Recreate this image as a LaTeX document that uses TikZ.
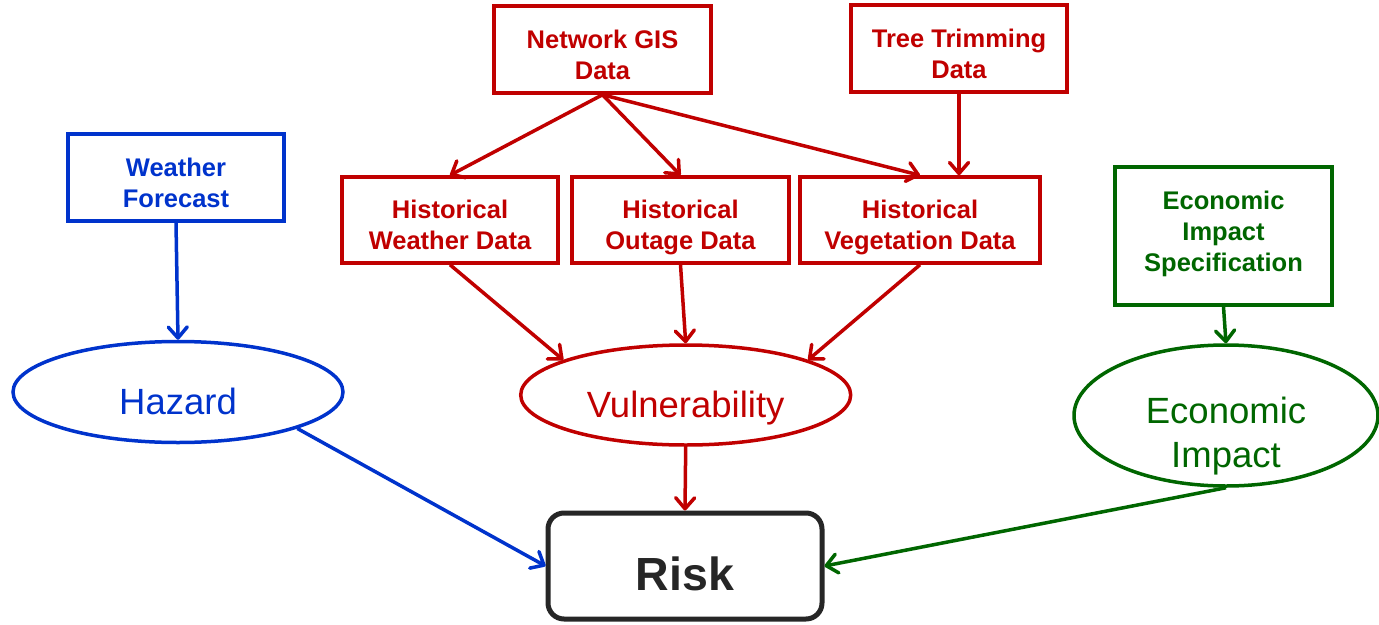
\documentclass[tikz,border=0pt]{standalone}
\usepackage{fontspec}
\setmainfont{Liberation Sans}
\usetikzlibrary{arrows.meta,shapes.geometric}

\definecolor{hazblue}{RGB}{0,51,204}
\definecolor{vulred}{RGB}{192,0,0}
\definecolor{ecogreen}{RGB}{0,102,0}
\definecolor{riskgray}{RGB}{38,38,38}

% invisible struts that set the height of a first line and the depth of a last line
\newcommand{\firstline}{\rule{0pt}{35pt}}
\newcommand{\lastline}{\rule[-7pt]{0pt}{7pt}}

\begin{document}
\begin{tikzpicture}[x=1pt,y=-1pt,
  inputbox/.style={draw, line width=3.5pt, inner sep=0pt, align=center,
    font=\fontsize{25.5pt}{31pt}\selectfont\bfseries},
  factor/.style={ellipse, draw, line width=3.5pt, inner sep=0pt, align=center,
    font=\fontsize{36.5pt}{44pt}\selectfont},
  link/.style={line width=3.5pt, -{Straight Barb[length=11pt,width=19pt,round]}},
]
\useasboundingbox (0,0) rectangle (1379,624);

% data sources
\node[inputbox, hazblue, minimum width=216pt, minimum height=87pt] (wf) at (176,177.5)
  {\firstline Weather\\Forecast\lastline};
\node[inputbox, vulred, minimum width=217pt, minimum height=87pt] (gis) at (602.5,49.5)
  {\firstline Network GIS\\Data\lastline};
\node[inputbox, vulred, minimum width=216pt, minimum height=87pt] (tree) at (959,48.5)
  {\firstline Tree Trimming\\Data\lastline};
\node[inputbox, vulred, minimum width=216pt, minimum height=86pt] (hw) at (450,220)
  {\firstline Historical\\Weather Data\lastline};
\node[inputbox, vulred, minimum width=217pt, minimum height=86pt] (ho) at (680.5,220)
  {\firstline Historical\\Outage Data\lastline};
\node[inputbox, vulred, minimum width=240pt, minimum height=86pt] (hv) at (920,220)
  {\firstline Historical\\Vegetation Data\lastline};
\node[inputbox, ecogreen, minimum width=217pt, minimum height=138pt] (eis) at (1223.5,236)
  {Economic\\Impact\\Specification\rule[-10pt]{0pt}{10pt}};

% risk factors
\node[factor, hazblue, minimum width=330pt, minimum height=101pt,
  text height=45pt, text depth=0pt] (hazard) at (178,392) {Hazard};
\node[factor, vulred, minimum width=330pt, minimum height=100pt,
  text height=45pt, text depth=0pt] (vuln) at (685.7,395) {Vulnerability};
\node[factor, ecogreen, minimum width=304pt, minimum height=141pt, inner ysep=-25pt]
  (ei) at (1226,415.5) {\rule{0pt}{68pt}Economic\\Impact\rule[-8pt]{0pt}{8pt}};

% result
\node[draw=riskgray, text=riskgray, line width=5pt, rounded corners=16pt,
  minimum width=274pt, minimum height=106pt, inner sep=0pt,
  font=\fontsize{46.5pt}{56pt}\selectfont\bfseries,
  text height=48pt, text depth=0pt] (risk) at (685,566) {Risk};

% connectors
\draw[link, hazblue] (wf.south) -- (hazard.north);
\draw[link, hazblue] (hazard.-17.5) -- (risk.west);

\draw[link, vulred] (gis.south) -- (hw.north);
\draw[link, vulred] (gis.south) -- (ho.north);
\draw[link, vulred] (gis.south) -- (hv.north);
\draw[link, vulred] (tree.south) -- (tree.south |- hv.north);
\draw[link, vulred] (hw.south) -- (vuln.164);
\draw[link, vulred] (ho.south) -- (vuln.north);
\draw[link, vulred] (hv.south) -- (vuln.16);
\draw[link, vulred] (vuln.south) -- (risk.north);

\draw[link, ecogreen] (eis.south) -- (ei.north);
\draw[link, ecogreen] (ei.south) -- (risk.east);
\end{tikzpicture}
\end{document}
